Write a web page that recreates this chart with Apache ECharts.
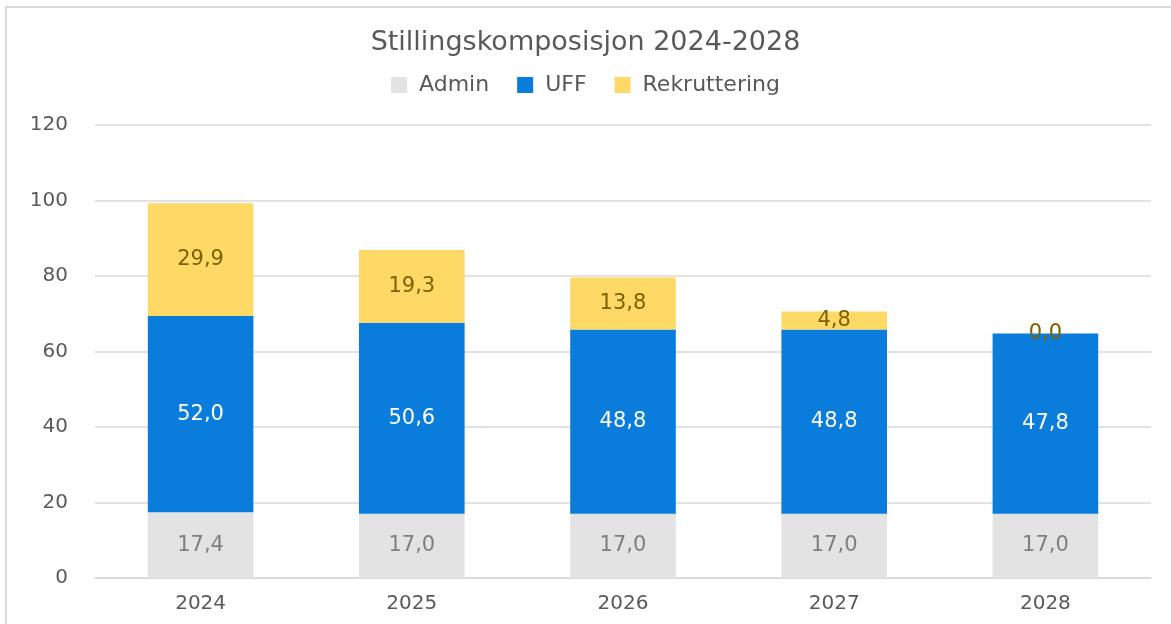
<!DOCTYPE html>
<html>
<head>
<meta charset="utf-8">
<script src="https://cdn.jsdelivr.net/npm/echarts@6/dist/echarts.min.js"></script>
<style>
  html, body { margin: 0; padding: 0; background: #fff; }
  #main { width: 1171px; height: 624px; }
</style>
</head>
<body>
<div id="main"></div>
<script>
const years = ['2024', '2025', '2026', '2027', '2028'];
const admin = [17.4, 17.0, 17.0, 17.0, 17.0];
const uff = [52.0, 50.6, 48.8, 48.8, 47.8];
const rekruttering = [29.9, 19.3, 13.8, 4.8, 0.0];

const font = '"DejaVu Sans", "Open Sans", sans-serif';
const fmt = p => p.value.toFixed(1).replace('.', ',');

function barSeries(name, data, color, labelColor) {
  return {
    name: name,
    type: 'bar',
    stack: 'total',
    barWidth: '50%',
    data: data,
    itemStyle: { color: color },
    label: {
      show: true,
      position: 'inside',
      formatter: fmt,
      color: labelColor,
      fontSize: 21,
      fontFamily: font
    }
  };
}

const myChart = echarts.init(document.getElementById('main'));
myChart.setOption({
  animation: false,
  title: {
    text: 'Stillingskomposisjon 2024-2028',
    left: 'center',
    top: 24,
    textStyle: { fontSize: 27, fontWeight: 'normal', color: '#595959', fontFamily: font }
  },
  legend: {
    top: 69,
    left: 'center',
    itemWidth: 16,
    itemHeight: 16,
    itemGap: 28,
    icon: 'rect',
    textStyle: { fontSize: 22, color: '#595959', fontFamily: font },
    formatter: name => ' ' + name,
    data: ['Admin', 'UFF', 'Rekruttering']
  },
  graphic: [{
    type: 'rect',
    shape: { x: 6, y: 7, width: 1400, height: 800 },
    style: { fill: 'none', stroke: '#d9d9d9', lineWidth: 2 },
    silent: true
  }],
  grid: { left: 95, right: 20, top: 125, bottom: 46 },
  xAxis: {
    type: 'category',
    data: years,
    axisTick: { show: false },
    axisLine: { lineStyle: { color: '#d9d9d9', width: 1.5 } },
    axisLabel: { color: '#595959', fontSize: 20, margin: 16, fontFamily: font }
  },
  yAxis: {
    type: 'value',
    min: 0,
    max: 120,
    interval: 20,
    axisLine: { show: false },
    axisTick: { show: false },
    splitLine: { lineStyle: { color: '#d9d9d9', width: 1.5 } },
    axisLabel: { color: '#595959', fontSize: 20, margin: 27, fontFamily: font }
  },
  series: [
    barSeries('Admin', admin, '#e3e3e3', '#7f7f7f'),
    barSeries('UFF', uff, '#0a7ddc', '#ffffff'),
    barSeries('Rekruttering', rekruttering, '#ffd966', '#7f6000')
  ]
});
</script>
</body>
</html>
